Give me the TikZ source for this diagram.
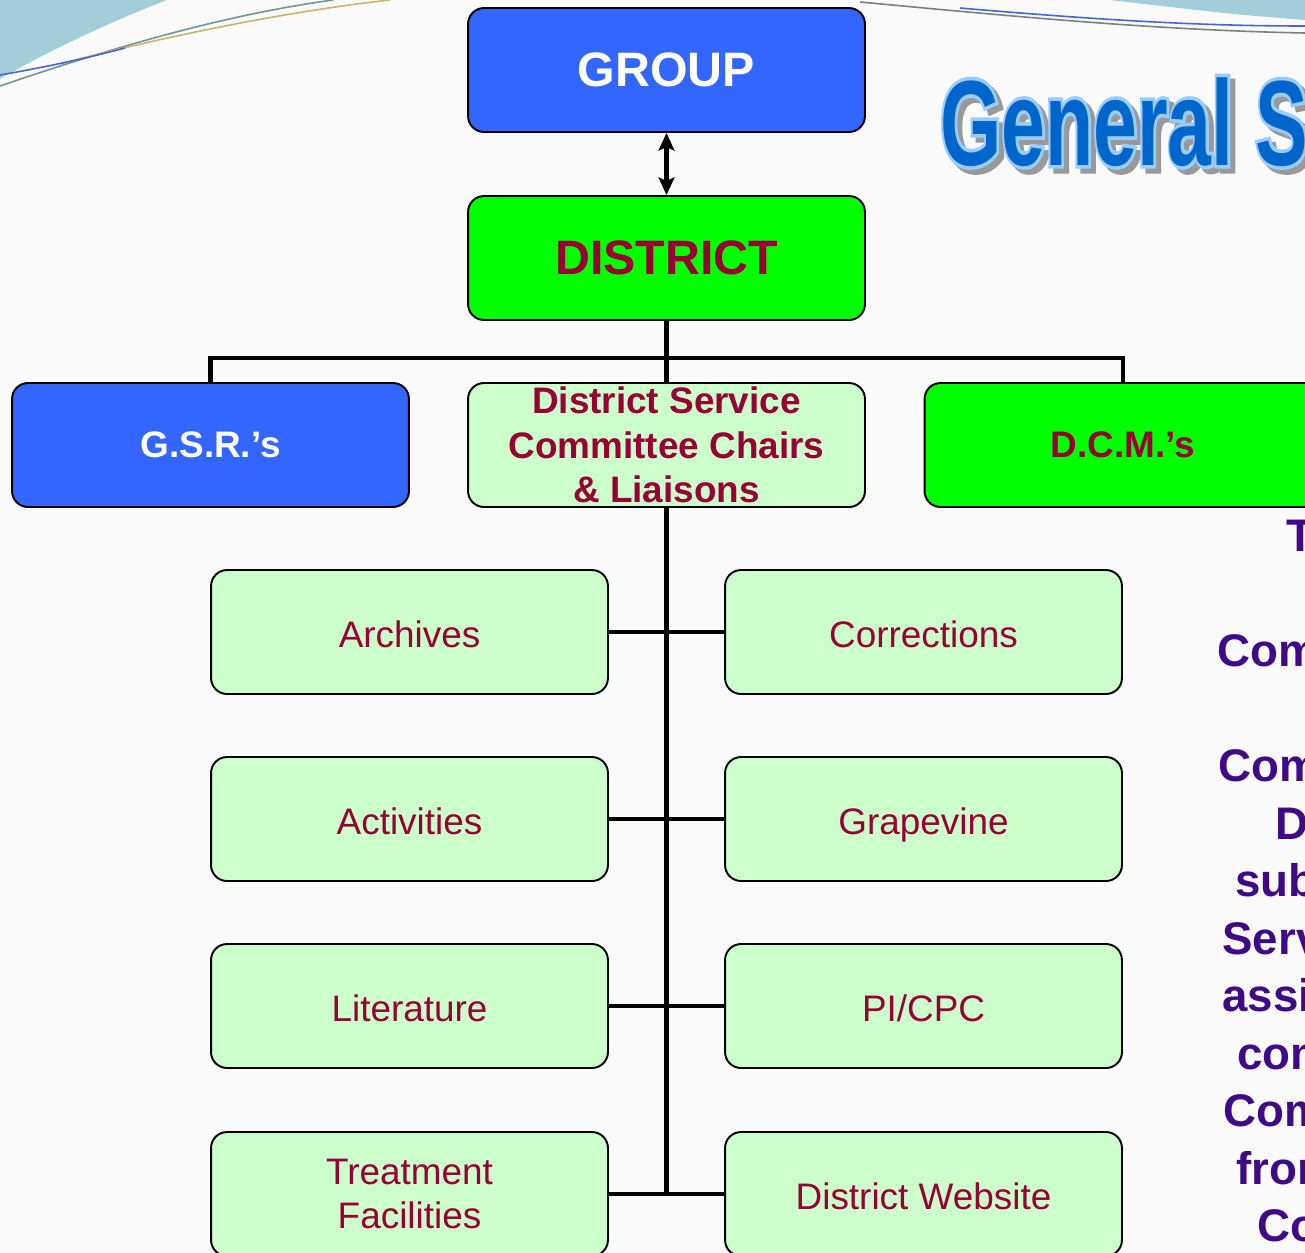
\documentclass[tikz,border=0pt]{standalone}
\usepackage{fontspec}
\setmainfont{Liberation Sans}
\newfontfamily\titleedgefont[FakeBold=6]{Liberation Sans Bold}
\usetikzlibrary{arrows.meta,calc}
\definecolor{grpblue}{HTML}{3366FF}
\definecolor{distgreen}{HTML}{00FF00}
\definecolor{lightgreen}{HTML}{CCFFCC}
\definecolor{darkred}{HTML}{990033}
\definecolor{purp}{HTML}{3F0A88}
\definecolor{titleblue}{HTML}{0066CC}
\definecolor{titleedge}{HTML}{99CCFF}
\definecolor{swoosh}{HTML}{A3CDD9}
\definecolor{bgcol}{HTML}{FAFAFA}
\begin{document}
\begin{tikzpicture}[x=0.02cm,y=-0.02cm,
 box/.style={draw=black, line width=1.1pt, rounded corners=0.32cm, minimum width=7.94cm, minimum height=2.48cm, inner sep=0pt, align=center},
 bigbox/.style={box, font=\fontsize{27.5}{30}\selectfont\bfseries},
 midbox/.style={box, font=\fontsize{21}{25.3}\selectfont\bfseries},
 subboxbase/.style={box, fill=lightgreen, text=darkred, font=\fontsize{21}{25}\selectfont},
 subbox/.style={subboxbase, text height=17.5pt, text depth=0pt},
 conn/.style={line width=2.7pt, black},
 side/.style={anchor=base west, text=purp, font=\fontsize{26}{30}\selectfont\bfseries, inner sep=0pt},
 titletext/.style={anchor=base west, inner sep=0pt, xscale=0.65, font=\fontsize{69}{72}\selectfont\bfseries},
]
\useasboundingbox (0,0) rectangle (1305,1252);
\clip (0,0) rectangle (1305,1252);
\fill[bgcol] (0,0) rectangle (1305,1252);

% decorative swooshes
\fill[swoosh] (0,0) -- (167,0) .. controls (110,22) and (50,50) .. (0,79) -- cycle;
\draw[line width=0.9pt, color={rgb,255:red,110;green,150;blue,150}] (0,86) .. controls (120,45) and (230,14) .. (333,0);
\draw[line width=0.9pt, color={rgb,255:red,200;green,180;blue,110}] (60,64) .. controls (150,40) and (280,12) .. (390,0);
\draw[line width=0.9pt, color={rgb,255:red,70;green,100;blue,210}] (0,75) .. controls (40,68) and (80,60) .. (125,48);
\fill[swoosh] (1110,0) -- (1305,0) -- (1305,20) .. controls (1230,14) .. (1110,0) -- cycle;
\draw[line width=0.9pt, color={rgb,255:red,70;green,100;blue,210}] (960,8) .. controls (1100,20) and (1200,26) .. (1305,26);
\draw[line width=0.9pt, color={rgb,255:red,120;green,130;blue,130}] (860,2) .. controls (1000,15) and (1150,30) .. (1305,33);

% title
\node[titletext, text=gray!80, font=\fontsize{69}{72}\titleedgefont] (titleshadow) at (945,170) {General Service};
\node[titletext, text=titleedge, font=\fontsize{69}{72}\titleedgefont] (titleoutline) at (940,165) {General Service};
\node[titletext, text=titleblue] (title) at (940,165) {General Service};

% main boxes
\node[bigbox, fill=grpblue, text=white] (group) at (666.5,70) {GROUP};
\node[bigbox, fill=distgreen, text=darkred] (district) at (666.5,258) {DISTRICT};
\node[midbox, fill=grpblue, text=white] (gsr) at (210.5,445) {G.S.R.’s};
\node[midbox, fill=lightgreen, text=darkred] (dsc) at (666.5,445) {District Service\\Committee Chairs\\\&~Liaisons};
\node[midbox, fill=distgreen, text=darkred] (dcm) at (1123,445) {D.C.M.’s};

\node[subbox] (archives) at (409.5,632) {Archives};
\node[subbox] (activities) at (409.5,819) {Activities};
\node[subbox] (literature) at (409.5,1006) {Literature};
\node[subboxbase] (treatment) at (409.5,1194) {Treatment\\Facilities};
\node[subbox] (corrections) at (923.5,632) {Corrections};
\node[subbox] (grapevine) at (923.5,819) {Grapevine};
\node[subbox] (picpc) at (923.5,1006) {PI/CPC};
\node[subbox] (website) at (923.5,1194) {District Website};

% connectors
\coordinate (bus) at (666.5,358);
\coordinate (spineend) at (666.5,1194);
\draw[conn] (district.south) -- (dsc.north);
\draw[conn] (gsr.north) |- (bus) -| (dcm.north);
\draw[conn] (dsc.south) -- (spineend);
\draw[conn] (archives.east) -- (corrections.west);
\draw[conn] (activities.east) -- (grapevine.west);
\draw[conn] (literature.east) -- (picpc.west);
\draw[conn] (treatment.east) -- (website.west);
\draw[line width=2.3pt, {Stealth[length=10pt,width=9pt,inset=2pt]}-{Stealth[length=10pt,width=9pt,inset=2pt]}] (group.south) -- (district.north);

% clipped side text
\node[side] (s0) at (1286,551.5) {The};
\node[side] (s2) at (1217,666.5) {Committee};
\node[side] (s4) at (1218,781.5) {Committee};
\node[side] (s5) at (1275,839) {District};
\node[side] (s6) at (1235,896.5) {subcommittee};
\node[side] (s7) at (1222,954) {Service};
\node[side] (s8) at (1222,1011.5) {assist};
\node[side] (s9) at (1237,1069) {committee};
\node[side] (s10) at (1223,1126.5) {Committees};
\node[side] (s11) at (1236,1184) {from};
\node[side] (s12) at (1257,1241.5) {Committee};
\end{tikzpicture}
\end{document}
